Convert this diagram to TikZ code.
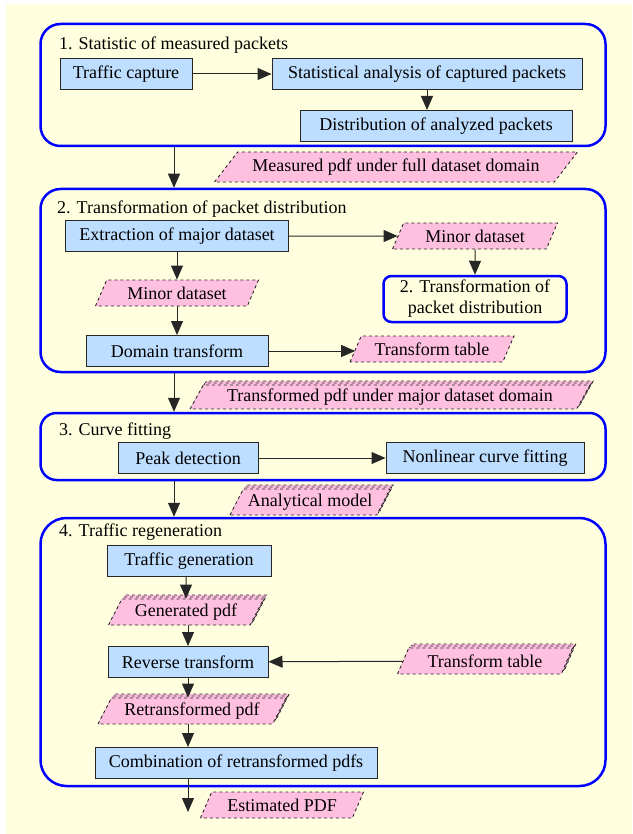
\documentclass[tikz,border=0pt]{standalone}
\usepackage{fontspec}
\setmainfont{Liberation Serif}
\usetikzlibrary{arrows.meta,shapes.geometric,shadows}

\definecolor{bgyellow}{RGB}{255,255,224}
\definecolor{procblue}{RGB}{190,222,255}
\definecolor{datapink}{RGB}{255,192,224}
\definecolor{frameblue}{RGB}{0,0,255}

\newcommand{\txt}{\fontsize{18}{21}\selectfont}

\tikzset{
  section/.style={draw=frameblue, line width=2.5pt, rounded corners=20pt},
  proc/.style={draw=black!85, line width=1pt, fill=procblue, minimum height=31pt, font=\txt},
  data/.style={trapezium, trapezium left angle=60, trapezium right angle=120,
    trapezium stretches body, draw=black!85, dashed, fill=datapink, line width=0.9pt,
    minimum height=26pt, inner xsep=2pt, font=\txt},
  datastack/.style={data, double copy shadow={shadow xshift=1.6pt, shadow yshift=2pt,
    fill=datapink, draw=black!85, dashed, line width=0.9pt}},
  title/.style={anchor=west, inner sep=0pt, font=\txt},
  flow/.style={draw=black!85, line width=1pt, -{Triangle[length=14pt,width=12pt]}}
}

\begin{document}
\begin{tikzpicture}[x=1pt,y=-1pt]
  \useasboundingbox (0,0) rectangle (632,834);
  \fill[bgyellow] (6,4) rectangle (632,834);
  \coordinate (spine) at (174,0);

  % 1. statistic
  \node[section, minimum width=565pt, minimum height=122pt] (sec1) at (323,85) {};
  \node[title] (t1) at (59,45) {1. Statistic of measured packets};
  \node[proc, minimum width=132pt] (tcap) at (126,74) {Traffic capture};
  \node[proc, minimum width=310pt] (stat) at (427,74) {Statistical analysis of captured packets};
  \node[proc, minimum width=272pt] (dist) at (436,126) {Distribution of analyzed packets};
  \node[data, trapezium left angle=45, trapezium right angle=135, minimum height=30pt,
    minimum width=363pt] (meas) at (396,167) {Measured pdf under full dataset domain};

  % 2. transformation
  \node[section, minimum width=565pt, minimum height=183pt] (sec2) at (323,280.5) {};
  \node[title] (t2) at (57,209) {2. Transformation of packet distribution};
  \node[proc, minimum width=223pt] (ext) at (177,236) {Extraction of major dataset};
  \node[data, minimum width=165pt] (minr) at (475,236) {Minor dataset};
  \node[section, rounded corners=8pt, minimum width=183pt, minimum height=46pt,
    align=center, font=\txt, inner sep=0pt] (sub2) at (475,299)
    {2. Transformation of\\packet distribution};
  \node[data, minimum width=163pt] (minl) at (177,293) {Minor dataset};
  \node[proc, minimum width=182pt] (dom) at (177,351) {Domain transform};
  \node[data, minimum width=164pt] (tt1) at (432,349) {Transform table};
  \node[datastack, minimum height=24pt, minimum width=400pt] (trpdf) at (390,397)
    {Transformed pdf under major dataset domain};

  % 3. curve fitting
  \node[section, rounded corners=16pt, minimum width=565pt, minimum height=67pt] (sec3) at (323,446.5) {};
  \node[title] (t3) at (59,431) {3. Curve fitting};
  \node[proc, minimum width=140pt] (peak) at (188,458) {Peak detection};
  \node[proc, minimum width=198pt] (fit) at (485,458) {Nonlinear curve fitting};
  \node[datastack, minimum width=160pt] (model) at (310,502) {Analytical model};

  % 4. regeneration
  \node[section, rounded corners=26pt, minimum width=565pt, minimum height=268pt] (sec4) at (323,652) {};
  \node[title] (t4) at (59,532) {4. Traffic regeneration};
  \node[proc, minimum width=164pt] (tgen) at (189,561) {Traffic generation};
  \node[datastack, minimum width=155pt] (gen) at (186,612) {Generated pdf};
  \node[proc, minimum width=160pt] (rev) at (188,662) {Reverse transform};
  \node[datastack, minimum width=175pt] (tt2) at (485,661) {Transform table};
  \node[datastack, minimum width=188pt] (retr) at (192,711) {Retransformed pdf};
  \node[proc, minimum width=282pt] (comb) at (236,763) {Combination of retransformed pdfs};
  \node[data, minimum width=163pt] (est) at (282,805) {Estimated PDF};
  \coordinate (pdfout) at (188,812);

  % connectors
  \draw[flow] (tcap) -- (stat);
  \draw[flow] (stat.south) -- (stat.south |- dist.north);
  \draw[flow] (sec1.south -| spine) -- (sec2.north -| spine);
  \draw[flow] (ext) -- (minr);
  \draw[flow] (minr.south) -- (sub2.north);
  \draw[flow] (ext) -- (minl);
  \draw[flow] (minl) -- (dom);
  \draw[flow] (dom.east) -- (dom.east -| tt1.west);
  \draw[flow] (sec2.south -| spine) -- (sec3.north -| spine);
  \draw[flow] (peak) -- (fit);
  \draw[flow] (sec3.south -| spine) -- (sec4.north -| spine);
  \draw[flow] (tgen.south -| gen.north) -- (gen);
  \draw[flow] (gen.south -| rev.north) -- (rev);
  \draw[flow] (tt2) -- (rev);
  \draw[flow] (rev.south) -- (rev.south |- retr.north);
  \draw[flow] (rev.south |- retr.south) -- (rev.south |- comb.north);
  \draw[flow] (comb.south -| pdfout) -- (pdfout);
\end{tikzpicture}
\end{document}
